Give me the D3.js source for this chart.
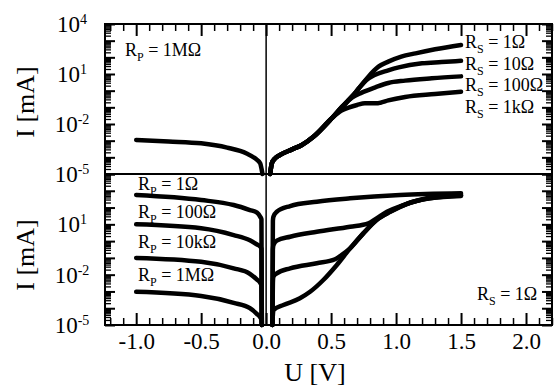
<!DOCTYPE html>
<html>
<head>
<meta charset="utf-8">
<script src="https://cdn.jsdelivr.net/npm/d3@7"></script>
<style>
  body { margin: 0; background: #fff; }
  text { font-family: "Liberation Serif", "Times New Roman", serif; fill: #000; }
</style>
</head>
<body>
<svg id="chart" width="555" height="389"></svg>
<script>
// ---- data (U in V, I in mA) ----
var xTicks = [-1.0, -0.5, 0.0, 0.5, 1.0, 1.5, 2.0];
var topYExps = [4, 1, -2, -5];
var botYExps = [1, -2, -5];
var rsNames = ["1Ω", "10Ω", "100Ω", "1kΩ"];
var rpNames = ["1Ω", "100Ω", "10kΩ", "1MΩ"];

// top panel: R_P = 1MΩ, different R_S
var topRevU = [-1.0, -0.75, -0.5, -0.3, -0.15, -0.085, -0.046, -0.035, -0.028];
var topRevI = [1.1e-3, 8.9e-4, 6.9e-4, 3.8e-4, 1.7e-4, 8.7e-5, 4.4e-5, 2.0e-5, 1e-5];
var topOnU = [0.031, 0.044, 0.069, 0.108, 0.2, 0.275, 0.364, 0.505];
var topOnI = [1e-5, 4.4e-5, 8.7e-5, 1.4e-4, 3.0e-4, 5.5e-4, 1.7e-3, 2.2e-2];
var rs1U = [0.58, 0.66, 0.72, 0.787, 0.865, 0.94, 1.04, 1.15, 1.3, 1.5];
var rs1I = [0.1, 0.44, 1.58, 6.9, 27.5, 55, 110, 174, 302, 550];
var rs10U = [0.58, 0.66, 0.72, 0.77, 0.83, 0.94, 1.02, 1.2, 1.35, 1.5];
var rs10I = [0.1, 0.44, 1.58, 4.2, 8.3, 16.6, 25, 44, 52, 62];
var rs100U = [0.58, 0.66, 0.736, 0.84, 0.94, 1.07, 1.275, 1.5];
var rs100I = [0.095, 0.38, 0.76, 1.58, 2.9, 4.0, 5.5, 7.2];
var rs1kU = [0.58, 0.64, 0.7, 0.76, 0.85, 0.88, 0.94, 1.07, 1.3, 1.5];
var rs1kI = [0.063, 0.1, 0.138, 0.174, 0.174, 0.19, 0.26, 0.42, 0.63, 0.87];

// bottom panel: R_S = 1Ω, different R_P
var botRevU = [-1.0, -0.5, -0.25, -0.125, -0.07, -0.045, -0.036, -0.033];
var rp1RevI = [562, 282, 141, 71, 50, 28, 20, 1e-5];
var rp100RevI = [10, 5.8, 2.3, 1.12, 0.63, 0.47, 0.35, 1e-5];
var rp10kRevI = [0.1, 0.059, 0.024, 0.0112, 0.005, 0.0032, 0.0022, 1e-5];
var rp1MRevI = [9.5e-4, 5.4e-4, 2.1e-4, 1.0e-4, 4.5e-5, 2.8e-5, 2.0e-5, 1e-5];
var rp1FwdU = [0.048, 0.052, 0.056, 0.082, 0.185, 0.39, 0.646, 1.03, 1.5];
var rp1FwdI = [1e-5, 16, 28, 56, 123, 224, 355, 562, 708];
var rp100FwdU = [0.048, 0.052, 0.056, 0.082, 0.185, 0.39, 0.646, 0.787, 0.85, 0.93, 1.056, 1.236, 1.5];
var rp100FwdI = [1e-5, 0.32, 0.56, 1.07, 1.82, 3.6, 7.2, 11.5, 22.9, 56, 141, 355, 562];
var rp10kFwdU = [0.048, 0.052, 0.056, 0.082, 0.185, 0.39, 0.53, 0.58, 0.646, 0.748, 0.85, 0.954, 1.08, 1.26, 1.5];
var rp10kFwdI = [1e-5, 3.2e-3, 7.6e-3, 0.012, 0.024, 0.048, 0.083, 0.148, 0.37, 2.9, 18.2, 56, 162, 355, 525];
var rp1MFwdU = [0.048, 0.052, 0.056, 0.133, 0.26, 0.338, 0.44, 0.544, 0.646, 0.748, 0.85, 0.954, 1.08, 1.26, 1.5];
var rp1MFwdI = [1e-5, 4.0e-5, 7.8e-5, 1.55e-4, 3.9e-4, 9.5e-4, 4.8e-3, 0.038, 0.37, 2.9, 18.2, 56, 162, 355, 490];

// ---- layout ----
var svg = d3.select("#chart");
var left = 105, right = 552;
var topY0 = 24, mid = 174, botY1 = 325;

var x = d3.scaleLinear().domain([-1.24, 2.2]).range([left, right]);
var yTop = d3.scaleLog().domain([1e-5, 1e4]).range([mid, topY0]);
var yBot = d3.scaleLog().domain([1e-5, 1e4]).range([botY1, mid]);

var majorY = d3.range(-5, 5).map(function (e) { return Math.pow(10, e); });
var minorY = [];
d3.range(-5, 4).forEach(function (e) {
  for (var m = 2; m <= 9; m++) minorY.push(m * Math.pow(10, e));
});
var minorX = d3.range(-12, 23).map(function (d) { return d / 10; })
  .filter(function (d) { return Math.round(d * 10) % 5 !== 0; });

function tidy(g, w) {
  g.select(".domain").remove();
  g.selectAll("line").attr("stroke", "#000").attr("stroke-width", w);
}

function yAxes(y) {
  [[d3.axisLeft, left], [d3.axisRight, right]].forEach(function (a) {
    svg.append("g").attr("transform", "translate(" + a[1] + ",0)")
      .call(a[0](y).tickValues(majorY).tickSize(-10).tickFormat(""))
      .call(tidy, 2);
    svg.append("g").attr("transform", "translate(" + a[1] + ",0)")
      .call(a[0](y).tickValues(minorY).tickSize(-6).tickFormat(""))
      .call(tidy, 1.3);
  });
}

function yLabels(y, exps) {
  exps.forEach(function (e) {
    var t = svg.append("text")
      .attr("x", 72).attr("y", y(Math.pow(10, e)) + 8)
      .attr("text-anchor", "middle");
    t.append("tspan").style("font-size", "23px").text("10");
    t.append("tspan").style("font-size", "14px").attr("dy", -8).text(String(e));
  });
}

yAxes(yTop);
yAxes(yBot);
yLabels(yTop, topYExps);
yLabels(yBot, botYExps);

// x axes: ticks on top of top panel, ticks + labels on bottom
svg.append("g").attr("transform", "translate(0," + topY0 + ")")
  .call(d3.axisTop(x).tickValues(xTicks).tickSize(-12).tickFormat(""))
  .call(tidy, 2);
svg.append("g").attr("transform", "translate(0," + topY0 + ")")
  .call(d3.axisTop(x).tickValues(minorX).tickSize(-7).tickFormat(""))
  .call(tidy, 1.5);
var xb = svg.append("g").attr("transform", "translate(0," + botY1 + ")")
  .call(d3.axisBottom(x).tickValues(xTicks).tickSize(-12).tickPadding(8)
    .tickFormat(function (d) { return d.toFixed(1); }))
  .call(tidy, 2);
xb.selectAll("text").style("font-size", "23px")
  .style("font-family", "'Liberation Serif', serif").attr("fill", "#000");
svg.append("g").attr("transform", "translate(0," + botY1 + ")")
  .call(d3.axisBottom(x).tickValues(minorX).tickSize(-7).tickFormat(""))
  .call(tidy, 1.5);

// frames
svg.append("rect").attr("x", left).attr("y", topY0)
  .attr("width", right - left).attr("height", botY1 - topY0)
  .attr("fill", "none").attr("stroke", "#000").attr("stroke-width", 2);
svg.append("line").attr("x1", left).attr("x2", right)
  .attr("y1", mid).attr("y2", mid).attr("stroke", "#000").attr("stroke-width", 2);
svg.append("line").attr("x1", x(0)).attr("x2", x(0))
  .attr("y1", topY0).attr("y2", botY1).attr("stroke", "#000").attr("stroke-width", 1.5);

// curves
function curve(y, us, is) {
  var line = d3.line()
    .x(function (d) { return x(d[0]); })
    .y(function (d) { return y(d[1]); })
    .curve(d3.curveMonotoneX);
  svg.append("path").datum(d3.zip(us, is))
    .attr("d", line)
    .attr("fill", "none").attr("stroke", "#000")
    .attr("stroke-width", 4.5).attr("stroke-linecap", "round").attr("stroke-linejoin", "round");
}

curve(yTop, topRevU, topRevI);
curve(yTop, topOnU.concat(rs1kU), topOnI.concat(rs1kI));
curve(yTop, topOnU.concat(rs100U), topOnI.concat(rs100I));
curve(yTop, topOnU.concat(rs10U), topOnI.concat(rs10I));
curve(yTop, topOnU.concat(rs1U), topOnI.concat(rs1I));

curve(yBot, botRevU, rp1RevI);
curve(yBot, botRevU, rp100RevI);
curve(yBot, botRevU, rp10kRevI);
curve(yBot, botRevU, rp1MRevI);
curve(yBot, rp1FwdU, rp1FwdI);
curve(yBot, rp100FwdU, rp100FwdI);
curve(yBot, rp10kFwdU, rp10kFwdI);
curve(yBot, rp1MFwdU, rp1MFwdI);

// annotations
function rLabel(px, py, sub, val) {
  var t = svg.append("text").attr("x", px).attr("y", py).style("font-size", "18px");
  t.append("tspan").text("R");
  t.append("tspan").attr("dy", 5).style("font-size", "12px").text(sub);
  t.append("tspan").attr("dy", -5).text(" = " + val);
}

rLabel(125, 56, "P", "1MΩ");
[48, 70, 91, 113].forEach(function (py, i) { rLabel(465, py, "S", rsNames[i]); });
[190, 218, 248, 281].forEach(function (py, i) { rLabel(138, py, "P", rpNames[i]); });
rLabel(477, 300, "S", "1Ω");

// axis titles
[102, 255].forEach(function (cy) {
  svg.append("text")
    .attr("transform", "translate(34," + cy + ") rotate(-90)")
    .attr("text-anchor", "middle").style("font-size", "26px").text("I [mA]");
});
svg.append("text").attr("x", 315).attr("y", 381)
  .attr("text-anchor", "middle").style("font-size", "26px").text("U [V]");
</script>
</body>
</html>
